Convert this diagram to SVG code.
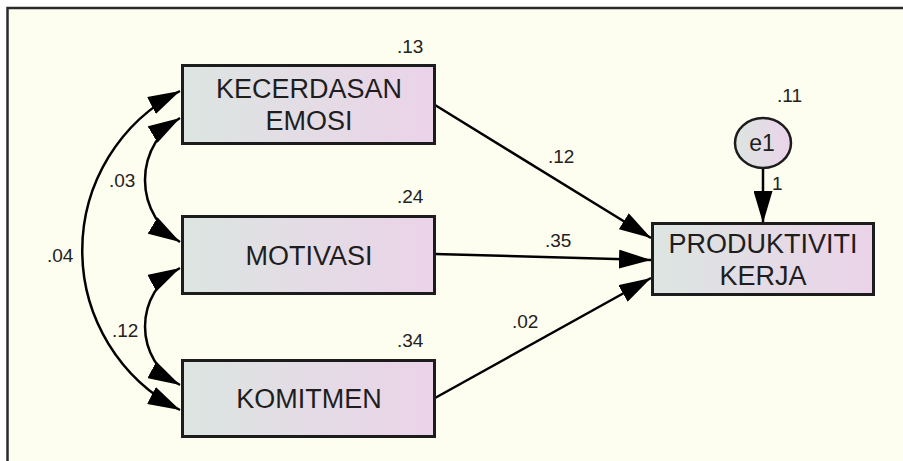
<svg xmlns="http://www.w3.org/2000/svg" width="903" height="461" viewBox="0 0 903 461">
  <style>
    .box { stroke: #1c1c1c; stroke-width: 3; fill: url(#grad); }
    .lbl { font-family: "Liberation Sans", Arial, sans-serif; font-size: 27px; fill: #1e1e1e; text-anchor: middle; }
    .num { font-family: "Liberation Sans", Arial, sans-serif; font-size: 19px; fill: #222; }
    .conn { fill: none; stroke: #000; stroke-width: 2.5; }
  </style>
  <defs>
    <linearGradient id="grad" x1="0" y1="0" x2="1" y2="0">
      <stop offset="0" stop-color="#dce5e1"/>
      <stop offset="1" stop-color="#ebd3e9"/>
    </linearGradient>
    <marker id="ah" viewBox="0 0 32 19" refX="32" refY="9.5" markerWidth="32" markerHeight="19" markerUnits="userSpaceOnUse" orient="auto-start-reverse">
      <path d="M0,0 L32,9.5 L0,19 z" fill="#000"/>
    </marker>
  </defs>
  <rect x="0" y="0" width="903" height="461" fill="#ffffff"/>
  <rect x="7.5" y="8" width="1000" height="1000" fill="#fefef0" stroke="#2a2a2a" stroke-width="2.5"/>

  <g id="connectors">
    <path class="conn" d="M435,105 L651,238" marker-end="url(#ah)"/>
    <path class="conn" d="M435,254 L651,260" marker-end="url(#ah)"/>
    <path class="conn" d="M435,398 L651,278" marker-end="url(#ah)"/>
    <path class="conn" d="M763,168 L763,223" marker-end="url(#ah)"/>
    <path class="conn" d="M180,118 A72.4,72.4 0 0 0 180,242" marker-start="url(#ah)" marker-end="url(#ah)"/>
    <path class="conn" d="M180,268 A66.4,66.4 0 0 0 180,385" marker-start="url(#ah)" marker-end="url(#ah)"/>
    <path class="conn" d="M180,91 A179,179 0 0 0 180,410" marker-start="url(#ah)" marker-end="url(#ah)"/>
    <text class="num" x="548" y="163">.12</text>
    <text class="num" x="545" y="247">.35</text>
    <text class="num" x="512" y="328">.02</text>
    <text class="num" x="772" y="190">1</text>
    <text class="num" x="109" y="187">.03</text>
    <text class="num" x="47" y="262">.04</text>
    <text class="num" x="112" y="337">.12</text>
  </g>

  <g id="kecerdasan">
    <rect class="box" x="182.5" y="65.5" width="252" height="78"/>
    <text class="lbl" x="309" y="98">KECERDASAN</text>
    <text class="lbl" x="309" y="130">EMOSI</text>
    <text class="num" x="397" y="53">.13</text>
  </g>
  <g id="motivasi">
    <rect class="box" x="182.5" y="216.5" width="252" height="77"/>
    <text class="lbl" x="309" y="265">MOTIVASI</text>
    <text class="num" x="397" y="203">.24</text>
  </g>
  <g id="komitmen">
    <rect class="box" x="182.5" y="360.5" width="252" height="76"/>
    <text class="lbl" x="309" y="408">KOMITMEN</text>
    <text class="num" x="397" y="347">.34</text>
  </g>
  <g id="produktiviti">
    <rect class="box" x="652.5" y="223.5" width="221" height="71"/>
    <text class="lbl" x="763" y="253">PRODUKTIVITI</text>
    <text class="lbl" x="763" y="285">KERJA</text>
  </g>
  <g id="e1">
    <ellipse cx="763" cy="143" rx="28" ry="25" fill="url(#grad)" stroke="#1c1c1c" stroke-width="2.5"/>
    <text class="lbl" x="762" y="151" style="font-size:23px">e1</text>
    <text class="num" x="777" y="102">.11</text>
  </g>
</svg>
